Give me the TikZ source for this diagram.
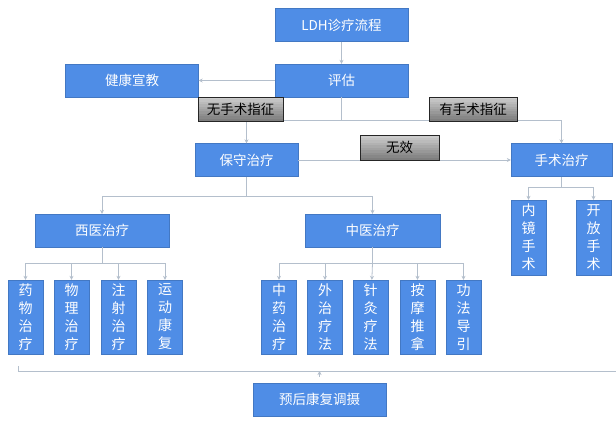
\documentclass[tikz,border=0pt]{standalone}
\usepackage{fontspec}
\setmainfont{Noto Sans CJK SC}
\usetikzlibrary{arrows.meta,positioning,calc}
\definecolor{boxblue}{HTML}{4F8DE6}
\definecolor{linegray}{HTML}{B4BFCC}

\begin{document}
\begin{tikzpicture}[x=1pt,y=-1pt,>={Stealth[length=4pt,width=4pt]},
 box/.style={fill=boxblue,draw=boxblue!85!black,line width=0.3pt,text=white,
 minimum width=133pt,minimum height=33pt,inner sep=0pt,
 font=\fontsize{13.5}{16}\selectfont},
 vbox/.style={box,minimum width=35pt,minimum height=74pt,align=center,
 font=\fontsize{14}{18}\selectfont},
 tag/.style={draw=black!85,line width=0.6pt,fill=black!40,
 minimum height=24pt,inner sep=0pt,font=\fontsize{13.5}{16}\selectfont,
 path picture={\foreach \k in {0,...,9}{\pgfmathsetmacro\c{20+3.4*\k}
 \fill[black!\c] ($(path picture bounding box.north west)!\k/10!(path picture bounding box.south west)$)
 rectangle ($(path picture bounding box.north east)!{min(1,(\k+1.2)/10)}!(path picture bounding box.south east)$);}}},
 link/.style={draw=linegray,line width=0.8pt}]
\useasboundingbox (0,0) rectangle (616,428);
% top of the flow
\node[box] (ldh) at (341.5,25) {LDH诊疗流程};
\node[box] (pinggu) at (341.5,80.5) {评估};
\node[box] (xuanjiao) at (132,80.5) {健康宣教};
\node[box,minimum width=103pt] (baoshou) at (246.5,160) {保守治疗};
\node[box,minimum width=101pt] (shoushu) at (561.5,160) {手术治疗};
% second level
\node[box,minimum width=134pt] (xiyi) at (102,230.5) {西医治疗};
\node[box,minimum width=135pt] (zhongyi) at (372.5,230.5) {中医治疗};
\node[vbox,minimum height=75pt] (neijing) at (528.5,237.5) {内\\镜\\手\\术};
\node[vbox,minimum height=75pt] (kaifang) at (593.5,237.5) {开\\放\\手\\术};
% leaves
\node[vbox] (yaowu) at (25.5,317) {药\\物\\治\\疗};
\node[vbox] (wuli) at (71.5,317) {物\\理\\治\\疗};
\node[vbox] (zhushe) at (118.5,317) {注\\射\\治\\疗};
\node[vbox] (yundong) at (165,317) {运\\动\\康\\复};
\node[vbox] (zhongyao) at (279,317) {中\\药\\治\\疗};
\node[vbox] (waizhi) at (325,317) {外\\治\\疗\\法};
\node[vbox] (zhenjiu) at (370.5,317) {针\\灸\\疗\\法};
\node[vbox] (anmo) at (417.5,317) {按\\摩\\推\\拿};
\node[vbox] (gongfa) at (463.5,317) {功\\法\\导\\引};
\node[box] (yuhou) at (319.5,399.5) {预后康复调摄};
% forks
\coordinate (f1) at (341.5,120);
\coordinate (f2) at (246.5,196);
\coordinate (f3) at (561.5,187);
\coordinate (f4) at (102,263);
\coordinate (f5) at (372.5,263);
\coordinate (bl) at (18,371);
\coordinate (br) at (616,371);
\draw[link,->] (ldh) -- (pinggu);
\draw[link,->] (pinggu) -- (xuanjiao);
\draw[link] (pinggu) -- (f1);
\draw[link,->] (f1) -| (baoshou);
\draw[link,->] (f1) -| (shoushu);
\draw[link,->] (baoshou) -- (shoushu);
\draw[link] (baoshou) -- (f2);
\draw[link,->] (f2) -| (xiyi);
\draw[link,->] (f2) -| (zhongyi);
\draw[link] (shoushu) -- (f3);
\draw[link,->] (f3) -| (neijing);
\draw[link,->] (f3) -| (kaifang);
\draw[link] (xiyi) -- (f4);
\draw[link,->] (f4) -| (yaowu);
\draw[link,->] (f4) -| (wuli);
\draw[link,->] (f4) -| (zhushe);
\draw[link,->] (f4) -| (yundong);
\draw[link] (zhongyi) -- (f5);
\draw[link,->] (f5) -| (zhongyao);
\draw[link,->] (f5) -| (waizhi);
\draw[link,->] (f5) -- (zhenjiu);
\draw[link,->] (f5) -| (anmo);
\draw[link,->] (f5) -| (gongfa);
\draw[link] (18,366) -- (bl) -- (br);
\draw[link,->,line width=0.5pt,shorten <=6pt] (yuhou) -- (yuhou.north |- bl);
% the tags lie on top of the lines
\node[tag,minimum width=85pt] (wuzheng) at (240.5,109) {无手术指征};
\node[tag,minimum width=88pt] (youzheng) at (473,109) {有手术指征};
\node[tag,minimum width=79pt,minimum height=25pt] (wuxiao) at (399.5,147.5) {无效};
\end{tikzpicture}
\end{document}
